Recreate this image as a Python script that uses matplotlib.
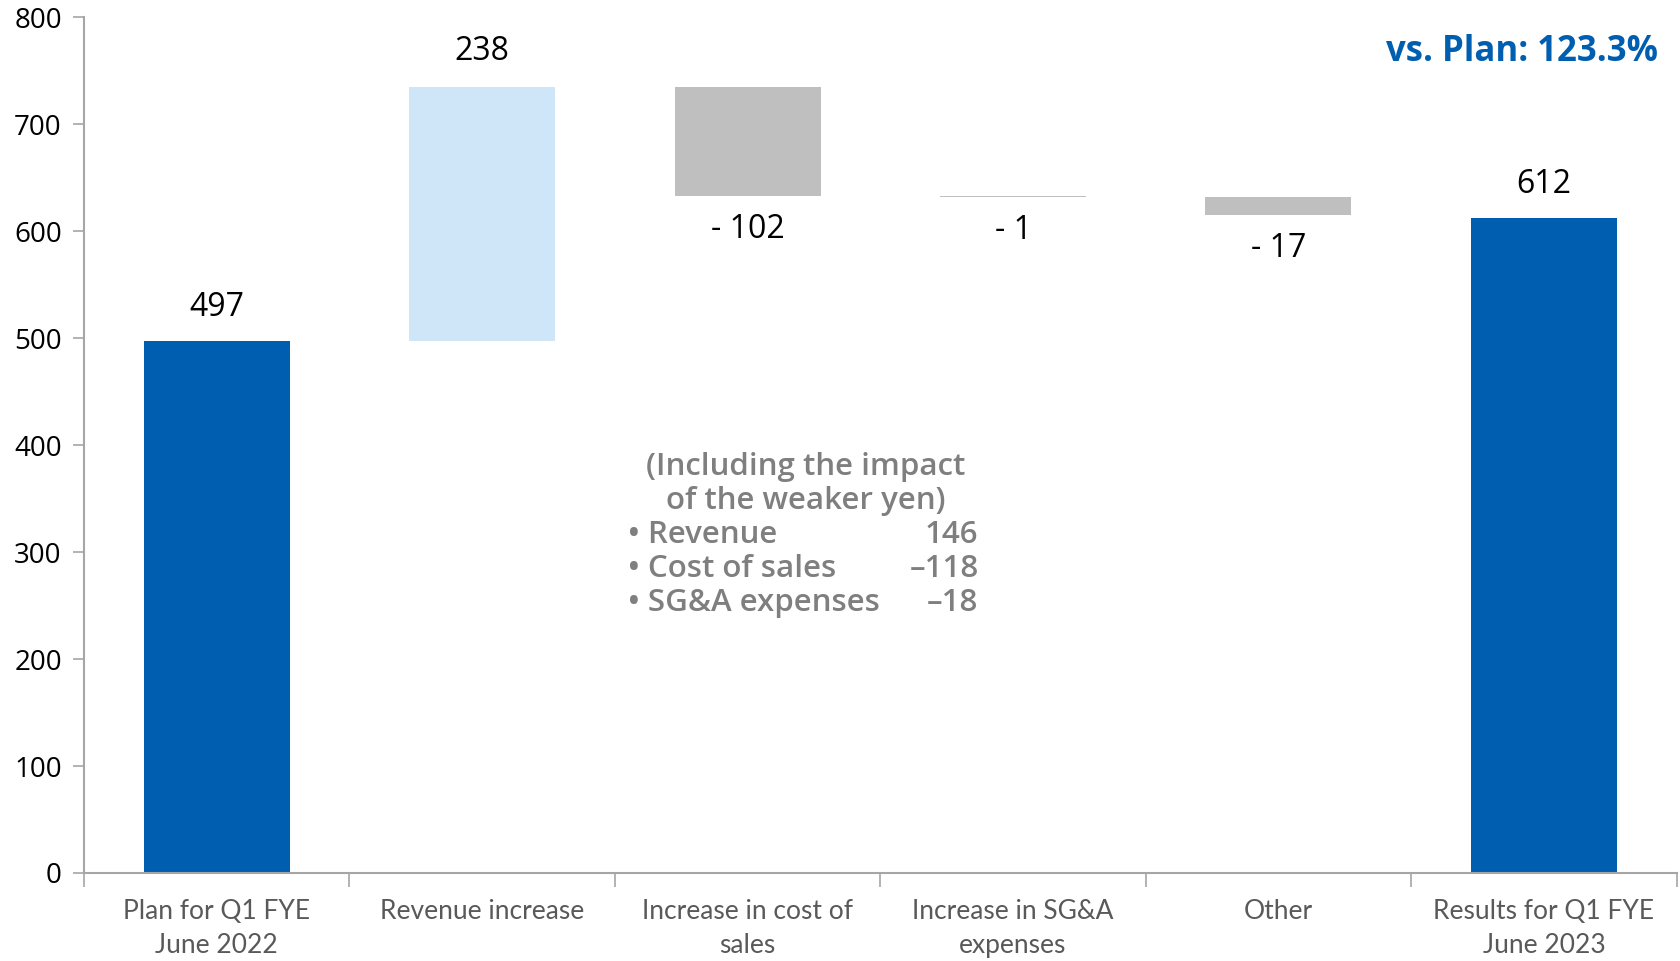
import numpy as np
import matplotlib.pyplot as plt

# données du pont (millions de yens)
categories = ["Plan for Q1 FYE\nJune 2022", "Revenue increase", "Increase in cost of\nsales",
              "Increase in SG&A\nexpenses", "Other", "Results for Q1 FYE\nJune 2023"]
start_value = 497
deltas = [238, -102, -1, -17]
end_value = 612
delta_labels = ["238", "- 102", "- 1", "- 17"]

note_title = ["(Including the impact", "of the weaker yen)"]
note_items = ["Revenue", "Cost of sales", "SG&A expenses"]
note_values = ["146", "\u2013118", "\u201318"]
ratio_text = "vs. Plan: 123.3%"

BLUE = "#005EB0"
LIGHT_BLUE = "#CFE5F8"
GREY = "#BFBFBF"
AXIS = "#A6A6A6"

plt.rcParams['font.family'] = ['Open Sans', 'DejaVu Sans']

fig = plt.figure(figsize=(16.8, 9.61), dpi=100)
ax = fig.add_axes([0.05, 0.0916, 0.948, 0.8904])

x = np.arange(len(categories))
w = 0.55

# barres de début et de fin
ax.bar(x[0], start_value, width=w, color=BLUE)
ax.bar(x[-1], end_value, width=w, color=BLUE)
ax.text(x[0], start_value + 32, str(start_value), ha='center', va='center', fontsize=23)
ax.text(x[-1], end_value + 32, str(end_value), ha='center', va='center', fontsize=23)

# barres flottantes
level = start_value
for i, (d, lab) in enumerate(zip(deltas, delta_labels)):
    xi = x[i + 1]
    bottom = level if d >= 0 else level + d
    ax.bar(xi, abs(d), bottom=bottom, width=w, color=LIGHT_BLUE if d >= 0 else GREY)
    if d >= 0:
        ax.text(xi, level + d + 33, lab, ha='center', va='center', fontsize=23)
    else:
        ax.text(xi, level + d - 31, lab, ha='center', va='center', fontsize=23)
    level += d

# encadré texte (effet yen)
note_color = "#7F7F7F"
for k, line in enumerate(note_title):
    ax.text(2.22, 380 - 32 * k, line, ha='center', va='center', fontsize=22.5,
            color=note_color, fontweight='semibold')
for k, (item, val) in enumerate(zip(note_items, note_values)):
    y = 316 - 32 * k
    ax.text(1.55, y, "\u2022 " + item, ha='left', va='center', fontsize=22.5,
            color=note_color, fontweight='semibold')
    ax.text(2.87, y, val, ha='right', va='center', fontsize=22.5,
            color=note_color, fontweight='semibold')

ax.text(0.9886, 768, ratio_text, transform=ax.get_yaxis_transform(), ha='right', va='center',
        fontsize=25, color=BLUE, fontweight='bold')

ax.set_xlim(-0.5, len(categories) - 0.5)
ax.set_ylim(0, 800)
ax.set_yticks(np.arange(0, 801, 100))
ax.tick_params(axis='y', labelsize=20, length=8, color=AXIS, width=1.2, pad=8)

# ticks aux frontières, étiquettes au centre
ax.set_xticks(np.arange(-0.5, len(categories), 1.0))
ax.set_xticklabels([])
ax.set_xticks(x, minor=True)
ax.set_xticklabels(categories, minor=True, fontsize=19, color="#595959",
                   family=['Lato', 'DejaVu Sans'], linespacing=1.45)
ax.tick_params(axis='x', which='major', length=10, color=AXIS, width=1.2)
ax.tick_params(axis='x', which='minor', length=0, pad=19)

for s in ['top', 'right']:
    ax.spines[s].set_visible(False)
for s in ['left', 'bottom']:
    ax.spines[s].set_color(AXIS)
    ax.spines[s].set_linewidth(1.5)

fig.savefig("out.png", dpi=100)
